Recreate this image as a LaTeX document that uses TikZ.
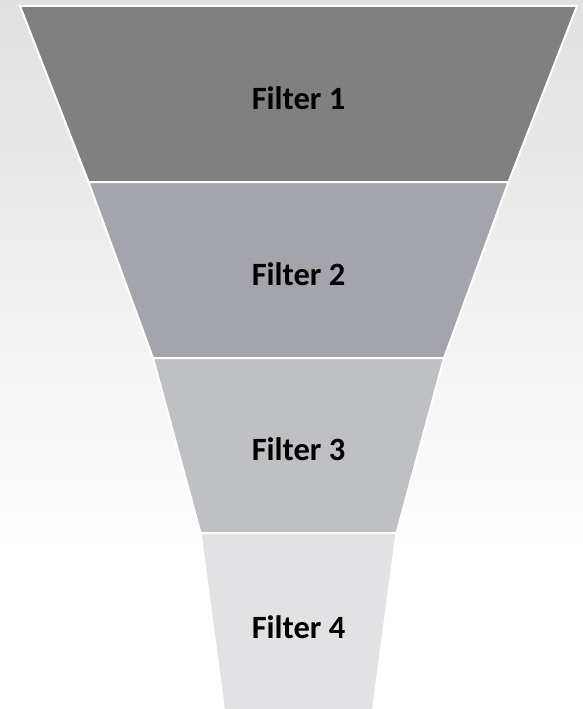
\documentclass[tikz,border=0pt]{standalone}
\usepackage{fontspec}
\setmainfont{Carlito}
\definecolor{bandone}{HTML}{808080}
\definecolor{bandtwo}{HTML}{A4A4AC}
\definecolor{bandthree}{HTML}{BFC0C4}
\definecolor{bandfour}{HTML}{E2E2E4}
\definecolor{backtop}{HTML}{E0E0E0}
\tikzset{
  funnel back/.style={top color=backtop,bottom color=white},
  funnel band/.style={draw=white,line width=2pt,line join=miter},
  funnel label/.style={font=\bfseries\fontsize{32.5}{38}\selectfont,text=black}
}
\begin{document}
\begin{tikzpicture}[x=1pt,y=-1pt]
  \useasboundingbox (0,0) rectangle (583,709);
  \shade[funnel back] (0,0) rectangle (583,555);
  \fill[white] (0,555) rectangle (583,709);
  \foreach \i/\ya/\yb/\wa/\wb/\fc in {1/6/182/278.5/210/bandone,2/182/358/210/145.5/bandtwo,3/358/533/145.5/98/bandthree,4/533/713/98/74/bandfour}{
    \filldraw[funnel band,fill=\fc] ({298.5-\wa},\ya) -- ({298.5+\wa},\ya)
      -- ({298.5+\wb},\yb) -- ({298.5-\wb},\yb) -- cycle;
    \node[funnel label] (filter\i) at (298.5,{(\ya+\yb)/2+4}) {Filter \i};
  }
\end{tikzpicture}
\end{document}
